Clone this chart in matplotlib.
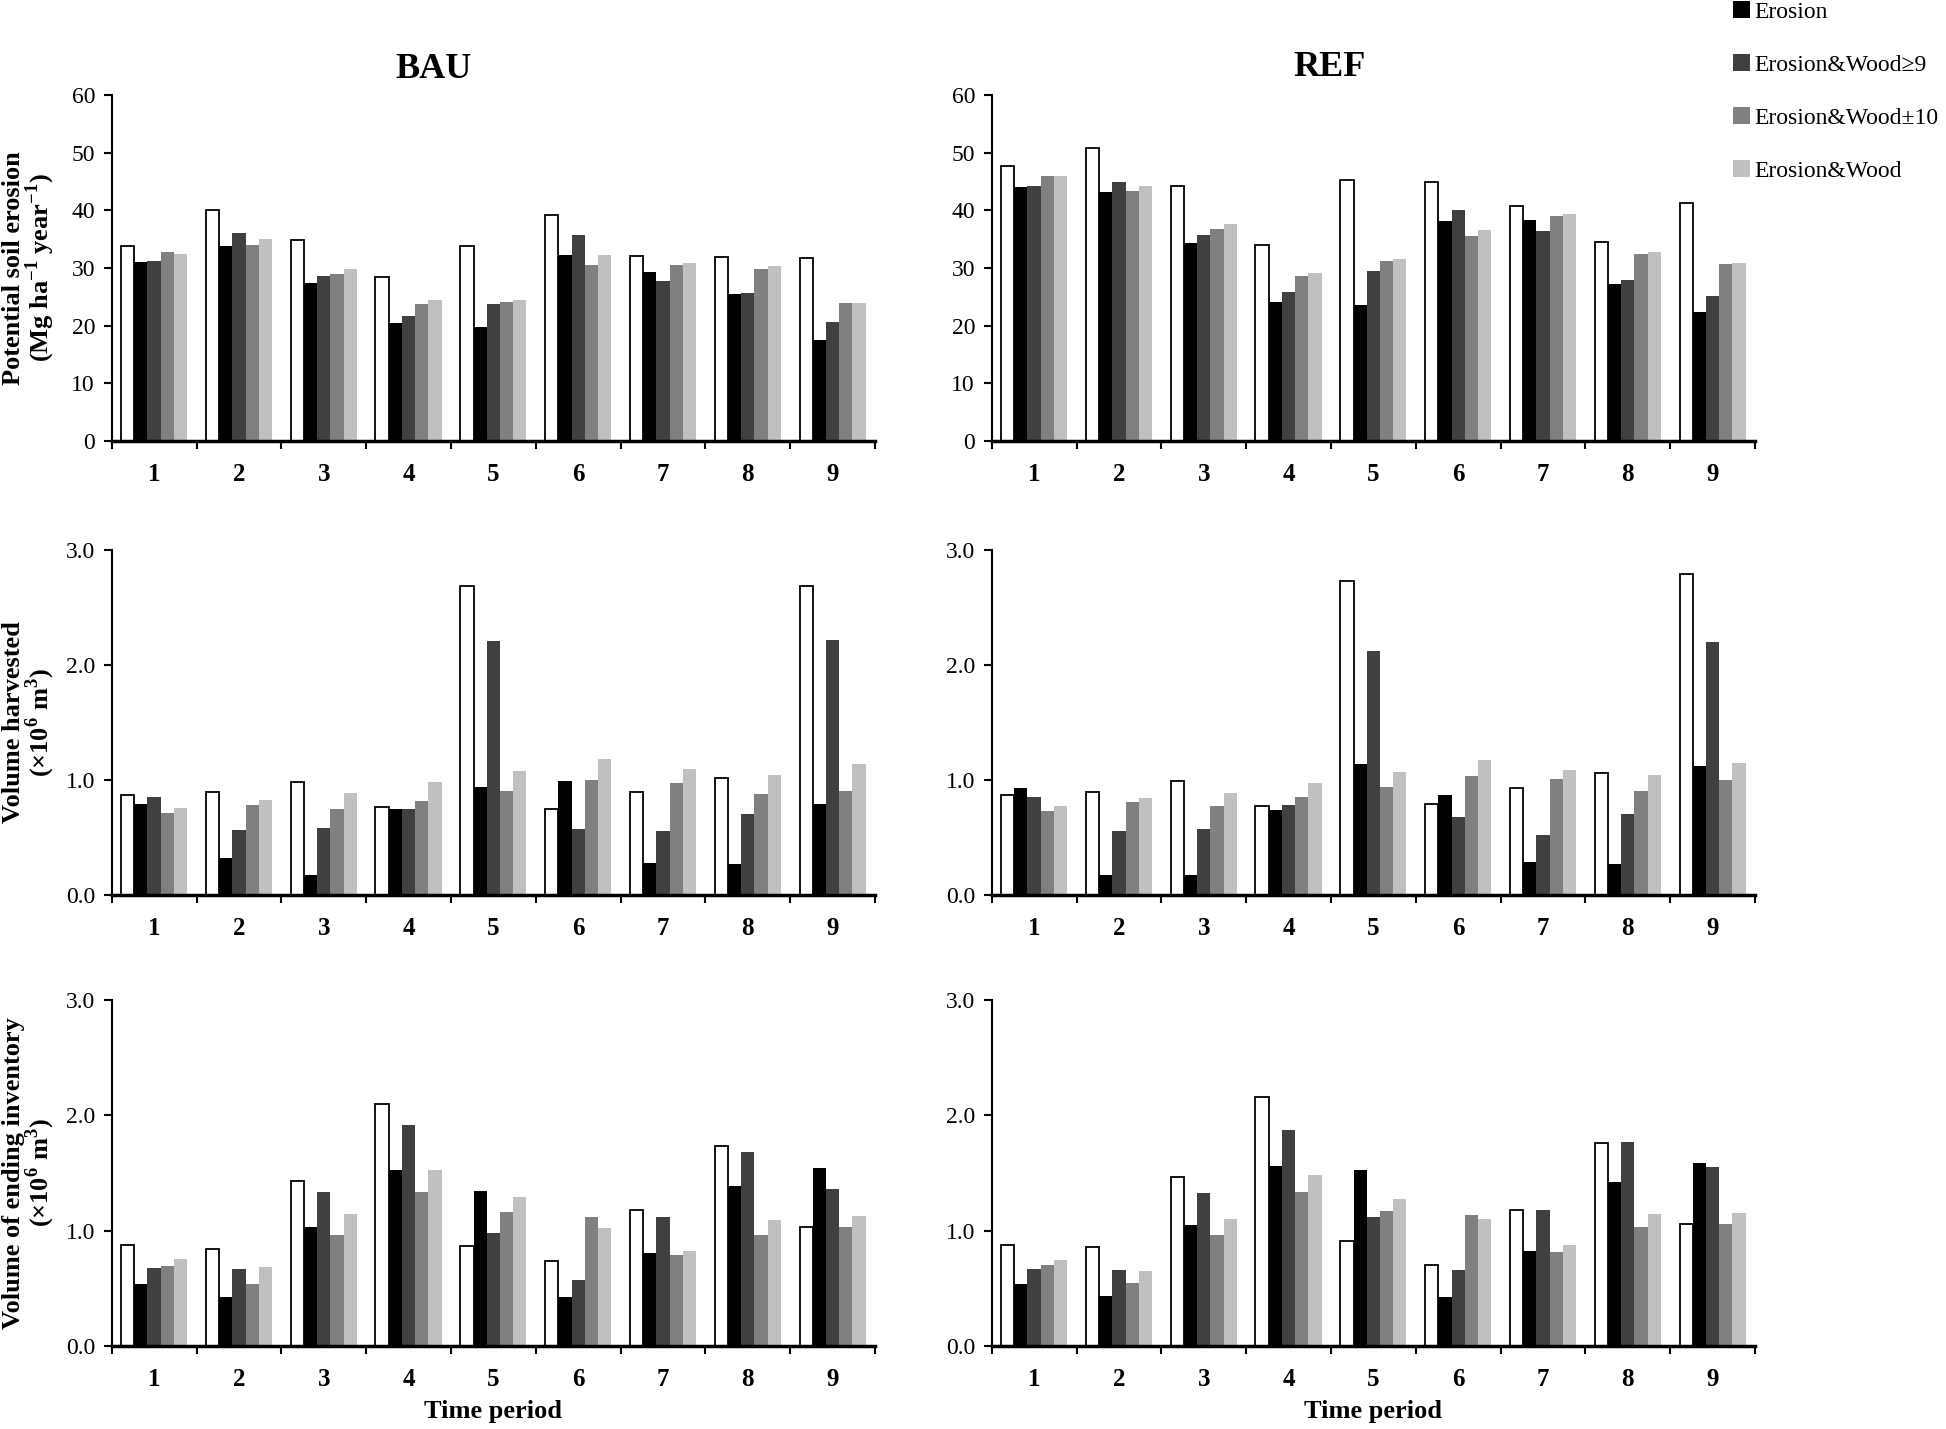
import numpy as np
import matplotlib
matplotlib.use('Agg')
import matplotlib.pyplot as plt

plt.rcParams['font.family'] = ['Liberation Serif', 'DejaVu Serif']
plt.rcParams['mathtext.fontset'] = 'custom'
plt.rcParams['mathtext.rm'] = 'Liberation Serif:bold'

periods = ['1', '2', '3', '4', '5', '6', '7', '8', '9']
series_names = ['Baseline', 'Erosion', 'Erosion&Wood\u22659', 'Erosion&Wood\u00b110', 'Erosion&Wood']
series_colors = ['white', '#000000', '#404040', '#808080', '#c0c0c0']

# potential soil erosion (Mg ha-1 year-1), one row per series
bau_erosion = [
    [33.8, 40.1, 34.9, 28.4, 33.9, 39.2, 32.0, 31.9, 31.7],
    [31.0, 33.8, 27.4, 20.5, 19.8, 32.2, 29.3, 25.5, 17.5],
    [31.3, 36.0, 28.6, 21.6, 23.7, 35.7, 27.7, 25.6, 20.6],
    [32.7, 34.0, 28.9, 23.8, 24.1, 30.6, 30.6, 29.8, 24.0],
    [32.5, 35.0, 29.8, 24.4, 24.5, 32.3, 30.8, 30.3, 24.0],
]
ref_erosion = [
    [47.7, 50.8, 44.2, 34.0, 45.2, 44.9, 40.8, 34.5, 41.2],
    [44.0, 43.1, 34.3, 24.1, 23.6, 38.2, 38.3, 27.3, 22.3],
    [44.3, 45.0, 35.8, 25.8, 29.4, 40.1, 36.5, 28.0, 25.1],
    [46.0, 43.4, 36.7, 28.6, 31.3, 35.5, 39.0, 32.5, 30.7],
    [45.9, 44.2, 37.6, 29.2, 31.5, 36.6, 39.4, 32.8, 30.8],
]

# volume harvested (x10^6 m3)
bau_harvest = [
    [0.866, 0.90, 0.98, 0.765, 2.685, 0.745, 0.895, 1.015, 2.69],
    [0.79, 0.32, 0.17, 0.75, 0.94, 0.99, 0.28, 0.27, 0.79],
    [0.85, 0.565, 0.58, 0.75, 2.21, 0.57, 0.555, 0.705, 2.22],
    [0.715, 0.785, 0.75, 0.82, 0.905, 1.0, 0.975, 0.875, 0.905],
    [0.76, 0.83, 0.89, 0.98, 1.08, 1.185, 1.10, 1.04, 1.14],
]
ref_harvest = [
    [0.866, 0.90, 0.99, 0.77, 2.73, 0.79, 0.93, 1.06, 2.79],
    [0.93, 0.17, 0.174, 0.735, 1.14, 0.87, 0.286, 0.266, 1.118],
    [0.855, 0.556, 0.573, 0.78, 2.12, 0.675, 0.52, 0.707, 2.20],
    [0.73, 0.805, 0.776, 0.854, 0.94, 1.034, 1.005, 0.904, 0.996],
    [0.77, 0.846, 0.886, 0.973, 1.07, 1.176, 1.083, 1.045, 1.15],
]

# volume of ending inventory (x10^6 m3)
bau_inventory = [
    [0.875, 0.843, 1.433, 2.10, 0.87, 0.738, 1.176, 1.73, 1.03],
    [0.536, 0.426, 1.03, 1.523, 1.347, 0.426, 0.808, 1.387, 1.54],
    [0.68, 0.666, 1.335, 1.914, 0.98, 0.57, 1.12, 1.683, 1.364],
    [0.69, 0.536, 0.96, 1.335, 1.158, 1.118, 0.79, 0.964, 1.03],
    [0.753, 0.683, 1.144, 1.523, 1.29, 1.02, 0.825, 1.092, 1.124],
]
ref_inventory = [
    [0.877, 0.857, 1.465, 2.157, 0.912, 0.704, 1.179, 1.764, 1.06],
    [0.539, 0.437, 1.05, 1.564, 1.523, 0.426, 0.82, 1.425, 1.587],
    [0.669, 0.655, 1.323, 1.877, 1.12, 0.66, 1.18, 1.767, 1.552],
    [0.698, 0.544, 0.964, 1.338, 1.17, 1.138, 0.817, 1.031, 1.054],
    [0.75, 0.646, 1.103, 1.486, 1.274, 1.103, 0.875, 1.141, 1.15],
]

W, H = 1946, 1429
fig = plt.figure(figsize=(W / 100, H / 100), dpi=100)


def px_axes(x0, x1, y0, y1):
    return fig.add_axes([x0 / W, 1 - y1 / H, (x1 - x0) / W, (y1 - y0) / H])


def draw_panel(ax, data, ymax, ystep, fmt, time_label=False):
    x = np.arange(len(periods))
    bw = 0.156
    handles = []
    for k, vals in enumerate(data):
        if k == 0:
            b = ax.bar(x + (k - 2) * bw, vals, bw, color='white', edgecolor='black', linewidth=1.3)
        else:
            b = ax.bar(x + (k - 2) * bw, vals, bw, color=series_colors[k], linewidth=0)
        handles.append(b)
    ax.set_xlim(-0.5, len(periods) - 0.5)
    ax.set_ylim(0, ymax)
    yt = np.arange(0, ymax + ystep / 2, ystep)
    ax.set_yticks(yt)
    ax.set_yticklabels([fmt.format(v) for v in yt], fontsize=17)
    ax.set_xticks(np.arange(-0.5, len(periods), 1.0))
    ax.set_xticklabels([])
    ax.set_xticks(x, minor=True)
    ax.set_xticklabels(periods, minor=True, fontsize=18, fontweight='bold')
    ax.tick_params(axis='x', which='major', direction='out', length=6, width=1.5)
    ax.tick_params(axis='x', which='minor', length=0, pad=16)
    ax.tick_params(axis='y', direction='out', length=6, width=1.5, pad=6)
    for s in ['top', 'right']:
        ax.spines[s].set_visible(False)
    ax.spines['left'].set_linewidth(1.5)
    ax.spines['bottom'].set_linewidth(2.5)
    if time_label:
        ax.set_xlabel('Time period', fontsize=19, fontweight='bold', labelpad=6)
    return handles


rows = [(95, 441), (550, 895), (1000, 1346)]
cols = [(111.7, 875), (991.7, 1755)]

ax = px_axes(cols[0][0], cols[0][1], *rows[0])
handles = draw_panel(ax, bau_erosion, 60, 10, '{:.0f}')
ax = px_axes(cols[1][0], cols[1][1], *rows[0])
draw_panel(ax, ref_erosion, 60, 10, '{:.0f}')
ax = px_axes(cols[0][0], cols[0][1], *rows[1])
draw_panel(ax, bau_harvest, 3.0, 1.0, '{:.1f}')
ax = px_axes(cols[1][0], cols[1][1], *rows[1])
draw_panel(ax, ref_harvest, 3.0, 1.0, '{:.1f}')
ax = px_axes(cols[0][0], cols[0][1], *rows[2])
draw_panel(ax, bau_inventory, 3.0, 1.0, '{:.1f}', time_label=True)
ax = px_axes(cols[1][0], cols[1][1], *rows[2])
draw_panel(ax, ref_inventory, 3.0, 1.0, '{:.1f}', time_label=True)

# scenario titles
fig.text(434 / W, 1 - 69 / H, 'BAU', fontsize=26, fontweight='bold', ha='center', va='center')
fig.text(1330 / W, 1 - 67 / H, 'REF', fontsize=26, fontweight='bold', ha='center', va='center')

# y labels, two lines each
ylabels = [
    ('Potential soil erosion', r'(Mg ha$^{-1}$ year$^{-1}$)'),
    ('Volume harvested', r'($\times$10$^{6}$ m$^{3}$)'),
    ('Volume of ending inventory', r'($\times$10$^{6}$ m$^{3}$)'),
]
for (y0, y1), (l1, l2) in zip(rows, ylabels):
    yc = 1 - (y0 + y1) / 2 / H
    fig.text(14 / W, yc, l1, rotation=90, fontsize=19, fontweight='bold', ha='center', va='center')
    fig.text(40 / W, yc, l2, rotation=90, fontsize=19, fontweight='bold', ha='center', va='center')

fig.legend(handles[1:], series_names[1:], loc='upper left', bbox_to_anchor=(1733 / W, 0.999),
           frameon=False, fontsize=17, handlelength=0.7, handleheight=0.7, handletextpad=0.2,
           labelspacing=1.33, borderpad=0, borderaxespad=0)

fig.savefig('out.png', dpi=100)
